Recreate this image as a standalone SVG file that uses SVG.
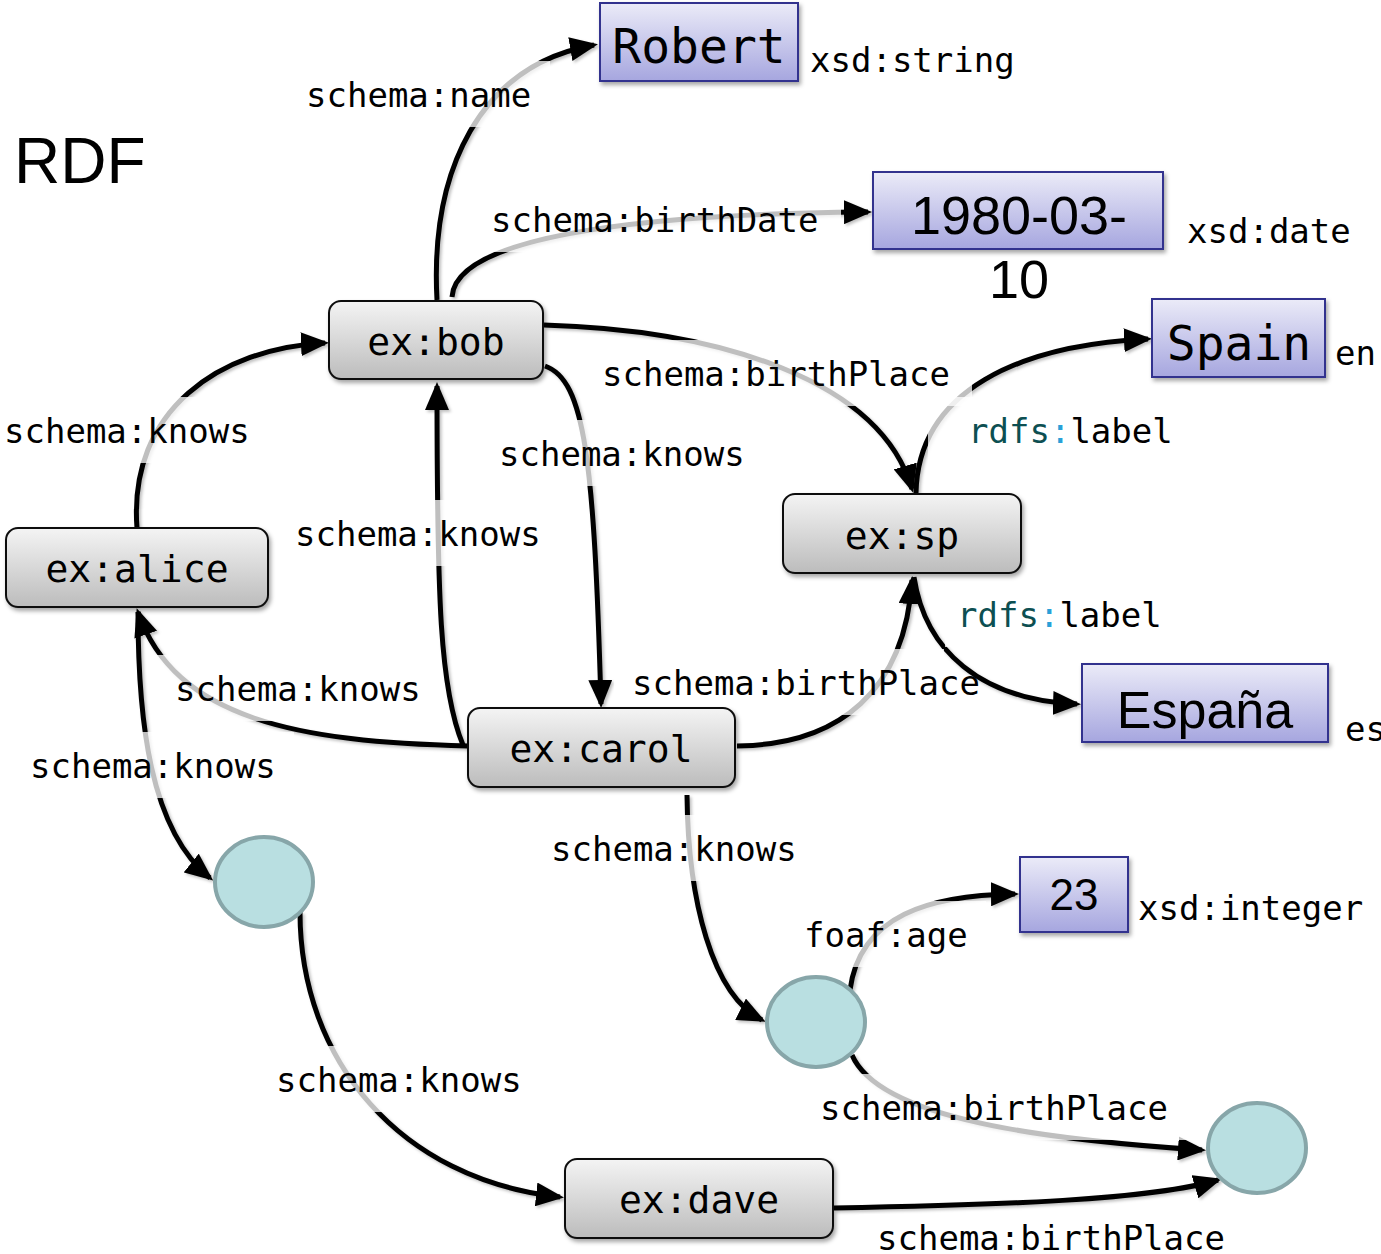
<svg xmlns="http://www.w3.org/2000/svg" width="1381" height="1254" viewBox="0 0 1381 1254">
  <defs>
    <linearGradient id="gNode" x1="0" y1="0" x2="0" y2="1">
      <stop offset="0" stop-color="#f4f4f4"/>
      <stop offset="1" stop-color="#bcbcbc"/>
    </linearGradient>
    <linearGradient id="gLit" x1="0" y1="0" x2="0" y2="1">
      <stop offset="0" stop-color="#ebebf8"/>
      <stop offset="1" stop-color="#a6a6df"/>
    </linearGradient>
    <filter id="shadow" x="-10%" y="-10%" width="130%" height="140%">
      <feDropShadow dx="2" dy="3" stdDeviation="2" flood-color="#000" flood-opacity="0.35"/>
    </filter>
    <filter id="lineShadow" x="-5%" y="-5%" width="110%" height="110%">
      <feDropShadow dx="2" dy="2" stdDeviation="1.5" flood-color="#000" flood-opacity="0.25"/>
    </filter>
    <marker id="arr" viewBox="0 0 28 24" refX="24" refY="12" markerWidth="28" markerHeight="24" markerUnits="userSpaceOnUse" orient="auto">
      <path d="M0,0 L28,12 L0,24 Z" fill="#000"/>
    </marker>
    <style>
      .edge { fill: none; stroke: #000; stroke-width: 5; marker-end: url(#arr); }
      .lblbg { fill: #fff; fill-opacity: 0.75; }
      .lbl { font-family: "DejaVu Sans Mono", "Liberation Mono", monospace; font-size: 34px; fill: #000; }
      .node rect { fill: url(#gNode); stroke: #111; stroke-width: 2; filter: url(#shadow); }
      .node text { font-family: "DejaVu Sans Mono", "Liberation Mono", monospace; font-size: 38px; fill: #000; text-anchor: middle; }
      .lit rect { fill: url(#gLit); stroke: #32328e; stroke-width: 2; filter: url(#shadow); }
      .lit text { fill: #000; text-anchor: middle; }
      .mono { font-family: "DejaVu Sans Mono", "Liberation Mono", monospace; }
      .sans { font-family: "Liberation Sans", Arial, sans-serif; }
      .blank ellipse { fill: #b9dfe1; stroke: #87a6a9; stroke-width: 4; }
      .dt { font-family: "DejaVu Sans Mono", "Liberation Mono", monospace; font-size: 34px; fill: #000; }
      .pfx { fill: #0d4f52; }
      .colon { fill: #2aa0d8; }
    </style>
  </defs>

  <rect width="1381" height="1254" fill="#fff"/>

  <text x="14" y="183" class="sans" font-size="64">RDF</text>

  <!-- connectors -->
  <g id="edges" filter="url(#lineShadow)">
    <path class="edge" d="M437,300 C430,170 480,65 594,45"/>
    <path class="edge" d="M452,297 C455,240 620,214 868,212"/>
    <path class="edge" d="M544,325 C720,330 880,380 912,489"/>
    <path class="edge" d="M545,366 C585,380 594,460 601,704"/>
    <path class="edge" d="M463,745 C440,690 437,600 437,386"/>
    <path class="edge" d="M137,528 C128,410 220,348 325,343"/>
    <path class="edge" d="M468,746 C300,742 175,720 138,612"/>
    <path class="edge" d="M138,612 C138,720 150,830 210,878"/>
    <path class="edge" d="M687,795 C688,900 712,995 762,1020"/>
    <path class="edge" d="M737,746 C840,745 905,690 912,580"/>
    <path class="edge" d="M916,493 C918,390 1020,345 1148,339"/>
    <path class="edge" d="M914,577 C925,650 980,700 1077,704"/>
    <path class="edge" d="M850,990 C860,915 930,895 1015,894"/>
    <path class="edge" d="M852,1055 C880,1120 1050,1140 1202,1150"/>
    <path class="edge" d="M300,912 C300,1060 400,1180 560,1197"/>
    <path class="edge" d="M834,1208 C1000,1205 1150,1200 1218,1180"/>
  </g>

  <!-- edge labels -->
  <g id="edge-labels">
    <rect class="lblbg" x="288" y="61" width="262" height="66"/>
    <rect class="lblbg" x="473" y="186" width="368" height="66"/>
    <rect class="lblbg" x="584" y="340" width="388" height="66"/>
    <rect class="lblbg" x="481" y="420" width="282" height="66"/>
    <rect class="lblbg" x="277" y="500" width="282" height="66"/>
    <rect class="lblbg" x="-14" y="397" width="282" height="66"/>
    <rect class="lblbg" x="155" y="655" width="285" height="66"/>
    <rect class="lblbg" x="12" y="732" width="282" height="66"/>
    <rect class="lblbg" x="614" y="649" width="330" height="66"/>
    <rect class="lblbg" x="928" y="397" width="265" height="66"/>
    <rect class="lblbg" x="945" y="581" width="237" height="66"/>
    <rect class="lblbg" x="533" y="815" width="282" height="66"/>
    <rect class="lblbg" x="786" y="901" width="200" height="66"/>
    <rect class="lblbg" x="802" y="1074" width="388" height="66"/>
    <rect class="lblbg" x="258" y="1046" width="282" height="66"/>
    <rect class="lblbg" x="859" y="1214" width="388" height="40"/>

    <text class="lbl" x="306" y="107">schema:name</text>
    <text class="lbl" x="491" y="232">schema:birthDate</text>
    <text class="lbl" x="602" y="386">schema:birthPlace</text>
    <text class="lbl" x="499" y="466">schema:knows</text>
    <text class="lbl" x="295" y="546">schema:knows</text>
    <text class="lbl" x="4" y="443">schema:knows</text>
    <text class="lbl" x="175" y="701">schema:knows</text>
    <text class="lbl" x="30" y="778">schema:knows</text>
    <text class="lbl" x="632" y="695">schema:birthPlace</text>
    <text class="lbl" x="968" y="443"><tspan class="pfx">rdfs</tspan><tspan class="colon">:</tspan>label</text>
    <text class="lbl" x="957" y="627"><tspan class="pfx">rdfs</tspan><tspan class="colon">:</tspan>label</text>
    <text class="lbl" x="551" y="861">schema:knows</text>
    <text class="lbl" x="804" y="947">foaf:age</text>
    <text class="lbl" x="820" y="1120">schema:birthPlace</text>
    <text class="lbl" x="276" y="1092">schema:knows</text>
    <text class="lbl" x="877" y="1250">schema:birthPlace</text>
  </g>

  <!-- resource nodes -->
  <g id="node-bob" class="node">
    <rect x="329" y="301" width="214" height="78" rx="12"/>
    <text x="436" y="355">ex:bob</text>
  </g>
  <g id="node-alice" class="node">
    <rect x="6" y="528" width="262" height="79" rx="12"/>
    <text x="137" y="582">ex:alice</text>
  </g>
  <g id="node-carol" class="node">
    <rect x="468" y="708" width="267" height="79" rx="12"/>
    <text x="601" y="762">ex:carol</text>
  </g>
  <g id="node-sp" class="node">
    <rect x="783" y="494" width="238" height="79" rx="12"/>
    <text x="902" y="549">ex:sp</text>
  </g>
  <g id="node-dave" class="node">
    <rect x="565" y="1159" width="268" height="79" rx="12"/>
    <text x="699" y="1213">ex:dave</text>
  </g>

  <!-- blank nodes -->
  <g id="blank-1" class="blank"><ellipse cx="264" cy="882" rx="49" ry="45"/></g>
  <g id="blank-2" class="blank"><ellipse cx="816" cy="1022" rx="49" ry="45"/></g>
  <g id="blank-3" class="blank"><ellipse cx="1257" cy="1148" rx="49" ry="45"/></g>

  <!-- literals -->
  <g id="lit-robert" class="lit">
    <rect x="600" y="3" width="198" height="78"/>
    <text x="699" y="63" class="mono" font-size="48">Robert</text>
  </g>
  <g id="lit-date" class="lit">
    <rect x="873" y="172" width="290" height="77"/>
    <text x="1019" y="234" class="sans" font-size="54">1980-03-</text>
    <text x="1019" y="298" class="sans" font-size="54">10</text>
  </g>
  <g id="lit-spain" class="lit">
    <rect x="1152" y="299" width="173" height="78"/>
    <text x="1239" y="360" class="mono" font-size="48">Spain</text>
  </g>
  <g id="lit-espana" class="lit">
    <rect x="1082" y="664" width="246" height="78"/>
    <text x="1205" y="728" class="sans" font-size="52">España</text>
  </g>
  <g id="lit-23" class="lit">
    <rect x="1020" y="857" width="108" height="75"/>
    <text x="1074" y="910" class="sans" font-size="44">23</text>
  </g>

  <!-- datatypes and language tags -->
  <g id="datatypes">
    <text class="dt" x="810" y="72">xsd:string</text>
    <text class="dt" x="1187" y="243">xsd:date</text>
    <text class="dt" x="1335" y="365">en</text>
    <text class="dt" x="1345" y="741">es</text>
    <text class="dt" x="1138" y="920">xsd:integer</text>
  </g>
</svg>
